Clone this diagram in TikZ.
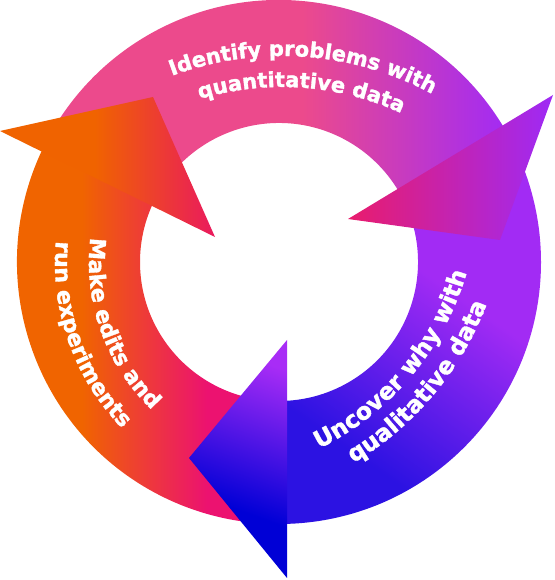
\documentclass[tikz,border=0pt]{standalone}
\usepackage{fontspec}
\newfontfamily\cyclefont{DejaVu Sans}[BoldFeatures={FakeBold=1.5}]
\usetikzlibrary{decorations.text}

\definecolor{bandOrange}{HTML}{F06400}
\definecolor{bandMagenta}{HTML}{EC1270}
\definecolor{bandPink}{HTML}{EC4A8C}
\definecolor{bandPurple}{HTML}{A22BF4}
\definecolor{bandIndigo}{HTML}{2C12E2}
\definecolor{headOrange}{HTML}{F06300}
\definecolor{headRed}{HTML}{EA1A5E}
\definecolor{headPink}{HTML}{E91C6C}
\definecolor{headViolet}{HTML}{9E2AF6}
\definecolor{headBlue}{HTML}{0000D6}
\definecolor{headLilac}{HTML}{A82CF6}

\pgfdeclarehorizontalshading{orangeband}{100bp}{color(0bp)=(bandOrange); color(42bp)=(bandOrange); color(63bp)=(bandMagenta); color(100bp)=(bandMagenta)}
\pgfdeclarehorizontalshading{pinkband}{100bp}{color(0bp)=(bandPink); color(53bp)=(bandPink); color(75bp)=(bandPurple); color(100bp)=(bandPurple)}
\pgfdeclareverticalshading{purpleband}{100bp}{color(0bp)=(bandIndigo); color(30bp)=(bandIndigo); color(58bp)=(bandPurple); color(100bp)=(bandPurple)}
\pgfdeclarehorizontalshading{orangehead}{100bp}{color(0bp)=(headOrange); color(47bp)=(headOrange); color(75bp)=(headRed); color(100bp)=(headRed)}
\pgfdeclarehorizontalshading{purplehead}{100bp}{color(0bp)=(headPink); color(25bp)=(headPink); color(75bp)=(headViolet); color(100bp)=(headViolet)}
\pgfdeclareverticalshading{bluehead}{100bp}{color(0bp)=(headBlue); color(38bp)=(headBlue); color(75bp)=(headLilac); color(100bp)=(headLilac)}

\newcommand\cyclelabel[1]{\cyclefont\bfseries\fontsize{#1}{#1}\selectfont}

\begin{document}
\begin{tikzpicture}[x=1pt,y=1pt,
    lbl/.style 2 args={decorate,decoration={text along path,text align=center,
      text color=white,text={|\cyclelabel{#1}|#2}}}]
%
  \useasboundingbox (0,0) rectangle (554,580);
%
  % ring bands
  \begin{scope}[shift={(279,318)}]
    \shade[shading=orangeband] (154:262pt) arc[start angle=154,end angle=270,radius=262pt]
      -- (270:139pt) arc[start angle=270,end angle=154,radius=139pt] -- cycle;
    \shade[shading=pinkband] (30:262pt) arc[start angle=30,end angle=154,radius=262pt]
      -- (154:139pt) arc[start angle=154,end angle=30,radius=139pt] -- cycle;
    \shade[shading=purpleband,shading angle=-35] (-90:262pt) arc[start angle=-90,end angle=30,radius=262pt]
      -- (30:139pt) arc[start angle=30,end angle=-90,radius=139pt] -- cycle;
  \end{scope}
%
  % arrow heads
  \coordinate (ob1) at (0,449);
  \coordinate (ob2) at (215,343);
  \coordinate (otip) at (153,483);
  \coordinate (pb1) at (553,485);
  \coordinate (pb2) at (348,361);
  \coordinate (ptip) at (500,340);
  \coordinate (bb1) at (287,240);
  \coordinate (bb2) at (287,2);
  \coordinate (btip) at (189,122);
%
  \shade[shading=orangehead] (ob1) -- (otip) -- (ob2) -- cycle;
  \shade[shading=purplehead] (pb1) -- (ptip) -- (pb2) -- cycle;
  \shade[shading=bluehead,shading angle=-20] (bb1) -- (bb2) -- (btip) -- cycle;
%
  % labels
  \begin{scope}[shift={(282,209)}]
    \path[lbl={21}{Identify problems with}] (126:315pt) arc[start angle=126,end angle=46,radius=315pt];
    \path[lbl={21}{quantitative data}] (126:284pt) arc[start angle=126,end angle=46,radius=284pt];
  \end{scope}
  \begin{scope}[shift={(193,387)}]
    \path[lbl={23.5}{Uncover why with}] (-82:285pt) arc[start angle=-82,end angle=2,radius=285pt];
    \path[lbl={23.5}{qualitative data}] (-81:314pt) arc[start angle=-81,end angle=1,radius=314pt];
  \end{scope}
  \begin{scope}[shift={(292,317)}]
    \path[lbl={22}{Make edits and}] (160:203pt) arc[start angle=160,end angle=239.2,radius=203pt];
    \path[lbl={22}{run experiments}] (159.5:237pt) arc[start angle=159.5,end angle=239.5,radius=237pt];
  \end{scope}
%
\end{tikzpicture}
\end{document}
